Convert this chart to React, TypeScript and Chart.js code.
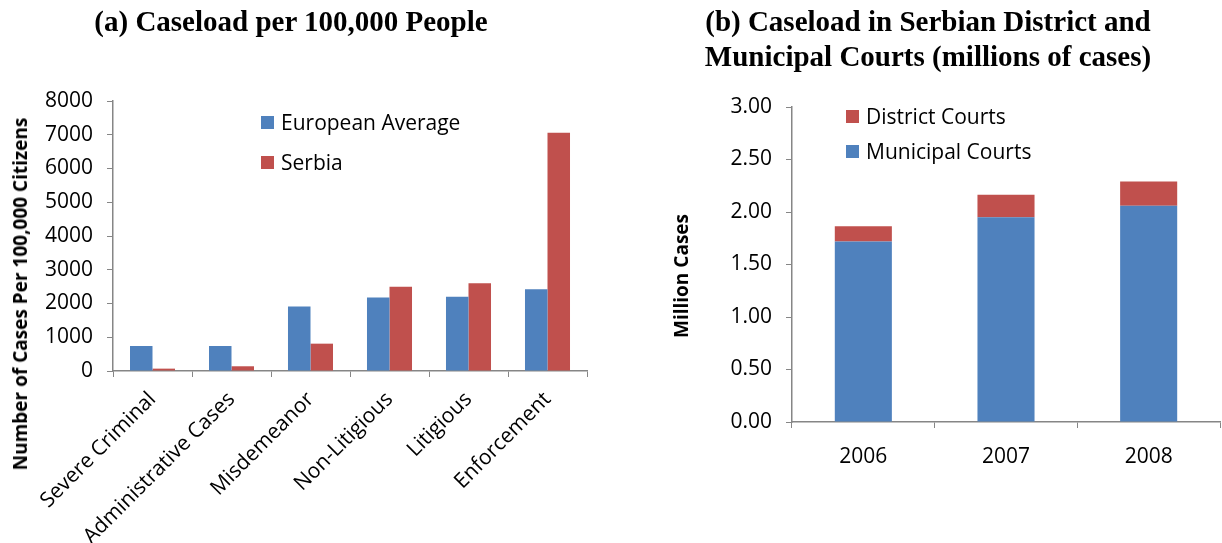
import React, { useEffect, useRef } from "react";
import { Chart, registerables } from "chart.js";

Chart.register(...registerables);

// ---- Data: panel (a) ----
const caseCategories = [
  "Severe Criminal",
  "Administrative Cases",
  "Misdemeanor",
  "Non-Litigious",
  "Litigious",
  "Enforcement",
];
const europeanAverage = [740, 740, 1910, 2180, 2200, 2420];
const serbia = [70, 140, 810, 2500, 2600, 7060];
const caseloadMax = 8000;
const caseloadStep = 1000;

// ---- Data: panel (b) ----
const years = ["2006", "2007", "2008"];
const municipalCourts = [1.72, 1.95, 2.06];
const districtCourts = [0.145, 0.215, 0.23];
const millionMax = 3;
const millionStep = 0.5;

const BLUE = "#4F81BD";
const RED = "#C0504D";
const AXIS = "#868686";
const FONT = "'Open Sans', 'Liberation Sans', sans-serif";

function ChartA() {
  const ref = useRef<HTMLCanvasElement>(null);
  useEffect(() => {
    const chart = new Chart(ref.current!, {
      type: "bar",
      data: {
        labels: caseCategories,
        datasets: [
          { label: "European Average", data: europeanAverage, backgroundColor: BLUE, borderWidth: 0, categoryPercentage: 0.57, barPercentage: 1.0 },
          { label: "Serbia", data: serbia, backgroundColor: RED, borderWidth: 0, categoryPercentage: 0.57, barPercentage: 1.0 },
        ],
      },
      options: {
        responsive: false,
        animation: false,
        layout: { padding: { top: 101, right: 13, left: 0, bottom: 0 } },
        plugins: { legend: { display: false }, tooltip: { enabled: false }, title: { display: false } },
        scales: {
          x: {
            grid: { offset: true, drawOnChartArea: false, drawTicks: true, tickLength: 6, color: AXIS },
            border: { color: AXIS, width: 1.5 },
            ticks: { color: "#000", font: { family: FONT, size: 21 }, minRotation: 45, maxRotation: 45, padding: 10, autoSkip: false },
            afterFit: (s: any) => { s.height = 172; },
          },
          y: {
            min: 0,
            max: caseloadMax,
            grid: { drawOnChartArea: false, drawTicks: true, tickLength: 6, color: AXIS },
            border: { color: AXIS, width: 1.5 },
            ticks: {
              stepSize: caseloadStep,
              color: "#000",
              font: { family: FONT, size: 21 },
              padding: 14,
              callback: (v: any) => String(v),
            },
            afterFit: (s: any) => { s.width = 113; },
          },
        },
      },
    });
    return () => chart.destroy();
  }, []);
  return <canvas ref={ref} width={600} height={543} style={{ position: "absolute", left: 0, top: 0 }} />;
}

function ChartB() {
  const ref = useRef<HTMLCanvasElement>(null);
  useEffect(() => {
    const chart = new Chart(ref.current!, {
      type: "bar",
      data: {
        labels: years,
        datasets: [
          { label: "Municipal Courts", data: municipalCourts, backgroundColor: BLUE, borderWidth: 0, categoryPercentage: 0.4, barPercentage: 1.0 },
          { label: "District Courts", data: districtCourts, backgroundColor: RED, borderWidth: 0, categoryPercentage: 0.4, barPercentage: 1.0 },
        ],
      },
      options: {
        responsive: false,
        animation: false,
        layout: { padding: { top: 107, right: 2, left: 0, bottom: 0 } },
        plugins: { legend: { display: false }, tooltip: { enabled: false }, title: { display: false } },
        scales: {
          x: {
            stacked: true,
            grid: { offset: true, drawOnChartArea: false, drawTicks: true, tickLength: 6, color: AXIS },
            border: { color: AXIS, width: 1.5 },
            ticks: { color: "#000", font: { family: FONT, size: 21 }, padding: 16 },
            afterFit: (s: any) => { s.height = 121; },
          },
          y: {
            stacked: true,
            min: 0,
            max: millionMax,
            grid: { drawOnChartArea: false, drawTicks: true, tickLength: 6, color: AXIS },
            border: { color: AXIS, width: 1.5 },
            ticks: {
              stepSize: millionStep,
              color: "#000",
              font: { family: FONT, size: 21 },
              padding: 14,
              callback: (v: any) => Number(v).toFixed(2),
            },
            afterFit: (s: any) => { s.width = 192; },
          },
        },
      },
    });
    return () => chart.destroy();
  }, []);
  return <canvas ref={ref} width={622} height={543} style={{ position: "absolute", left: 600, top: 0 }} />;
}

const titleStyle: React.CSSProperties = {
  position: "absolute",
  fontFamily: "'Liberation Serif', 'Times New Roman', serif",
  fontWeight: "bold",
  fontSize: 29,
  lineHeight: "35px",
  whiteSpace: "nowrap",
  color: "#000",
};

const legendText: React.CSSProperties = {
  position: "absolute",
  fontFamily: FONT,
  fontSize: 21,
  lineHeight: "24px",
  whiteSpace: "nowrap",
  color: "#000",
};

const axisTitle: React.CSSProperties = {
  position: "absolute",
  fontFamily: FONT,
  fontWeight: "bold",
  fontSize: 19,
  whiteSpace: "nowrap",
  color: "#000",
  transform: "translate(-50%, -50%) rotate(-90deg)",
};

function Swatch({ x, y, color }: { x: number; y: number; color: string }) {
  return <div style={{ position: "absolute", left: x, top: y, width: 13, height: 13, background: color }} />;
}

export default function App() {
  return (
    <div style={{ position: "absolute", left: 0, top: 0, width: 1222, height: 543, background: "#fff", overflow: "hidden" }}>
      <ChartA />
      <ChartB />
      <div style={{ ...titleStyle, left: 0, width: 582, top: 4, textAlign: "center" }}>(a) Caseload per 100,000 People</div>
      <div style={{ ...titleStyle, left: 678, width: 500, top: 4, textAlign: "center" }}>
        (b) Caseload in Serbian District and
        <br />
        Municipal Courts (millions of cases)
      </div>

      <Swatch x={261} y={116} color={BLUE} />
      <div style={{ ...legendText, left: 281, top: 110 }}>European Average</div>
      <Swatch x={261} y={156} color={RED} />
      <div style={{ ...legendText, left: 281, top: 150 }}>Serbia</div>

      <Swatch x={846} y={110} color={RED} />
      <div style={{ ...legendText, left: 866, top: 104 }}>District Courts</div>
      <Swatch x={846} y={145} color={BLUE} />
      <div style={{ ...legendText, left: 866, top: 139 }}>Municipal Courts</div>

      <div style={{ ...axisTitle, left: 20, top: 294 }}>Number of Cases Per 100,000 Citizens</div>
      <div style={{ ...axisTitle, left: 681, top: 276 }}>Million Cases</div>
    </div>
  );
}
